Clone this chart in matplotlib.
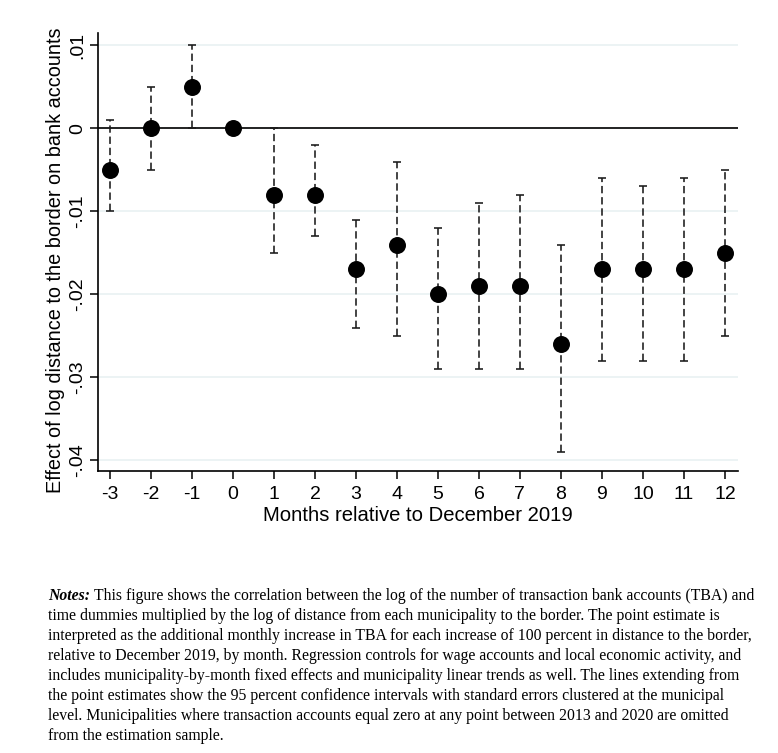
import numpy as np
import matplotlib
matplotlib.use("Agg")
import matplotlib.pyplot as plt

months = [-3, -2, -1, 0, 1, 2, 3, 4, 5, 6, 7, 8, 9, 10, 11, 12]
coef = [-0.005, 0.0, 0.005, 0.0, -0.008, -0.008, -0.017, -0.014,
        -0.020, -0.019, -0.019, -0.026, -0.017, -0.017, -0.017, -0.015]
ci_lo = [-0.010, -0.005, 0.000, 0.0, -0.015, -0.013, -0.024, -0.025,
         -0.029, -0.029, -0.029, -0.039, -0.028, -0.028, -0.028, -0.025]
ci_hi = [0.001, 0.005, 0.010, 0.0, 0.000, -0.002, -0.011, -0.004,
         -0.012, -0.009, -0.008, -0.014, -0.006, -0.007, -0.006, -0.005]
yticks = [0.01, 0.0, -0.01, -0.02, -0.03, -0.04]
ytick_labels = [".01", "0", "-.01", "-.02", "-.03", "-.04"]

notes = [
    "This figure shows the correlation between the log of the number of transaction bank accounts (TBA) and",
    "time dummies multiplied by the log of distance from each municipality to the border. The point estimate is",
    "interpreted as the additional monthly increase in TBA for each increase of 100 percent in distance to the border,",
    "relative to December 2019, by month. Regression controls for wage accounts and local economic activity, and",
    "includes municipality-by-month fixed effects and municipality linear trends as well. The lines extending from",
    "the point estimates show the 95 percent confidence intervals with standard errors clustered at the municipal",
    "level. Municipalities where transaction accounts equal zero at any point between 2013 and 2020 are omitted",
    "from the estimation sample.",
]

plt.rcParams["font.family"] = "Liberation Sans"

fig = plt.figure(figsize=(7.78, 7.53), dpi=100)
ax = fig.add_axes([0.1264, 0.3745, 0.8222, 0.5817])

x = np.array(months)
y = np.array(coef)
lo = np.array(ci_lo)
hi = np.array(ci_hi)
has_ci = hi > lo

for yt in yticks:
    ax.axhline(yt, color="#eaf2f3", lw=1.3, zorder=0)
ax.axhline(0, color="black", lw=1.2, zorder=1)

# confidence intervals: dashed stems with caps
ax.vlines(x[has_ci], lo[has_ci], hi[has_ci], colors="#1a1a1a",
          linestyles=(0, (4.6, 2.4)), lw=1.15, zorder=2)
ax.hlines(lo[has_ci], x[has_ci] - 0.09, x[has_ci] + 0.09, colors="#1a1a1a", lw=1.15, zorder=2)
ax.hlines(hi[has_ci], x[has_ci] - 0.09, x[has_ci] + 0.09, colors="#1a1a1a", lw=1.15, zorder=2)
ax.plot(x, y, "o", color="black", ms=11.2, zorder=3)

ax.set_xlim(-3.285, 12.32)
ax.set_ylim(-0.04127, 0.01148)
ax.set_xticks(months)
ax.set_xticklabels([str(m) for m in months], fontsize=14)
ax.set_yticks(yticks)
ax.set_yticklabels(ytick_labels, fontsize=14, rotation=90, va="center")
ax.tick_params(length=6, width=1.1, color="black", pad=3)
ax.tick_params(axis="x", pad=5)
for s in ["top", "right"]:
    ax.spines[s].set_visible(False)
for s in ["left", "bottom"]:
    ax.spines[s].set_linewidth(1.2)
ax.set_xlabel("Months relative to December 2019", fontsize=14.6, labelpad=2)
ax.set_ylabel("Effect of log distance to the border on bank accounts", fontsize=14.3)
ax.yaxis.set_label_coords(-0.052, 0.482)

fig.canvas.draw()
renderer = fig.canvas.get_renderer()
y0 = 1 - 600 / 753
x0 = 48 / 778
lead = fig.text(x0, y0, "Notes:", fontsize=11.35, family="Liberation Serif",
                style="italic", weight="bold", va="baseline")
bb = lead.get_window_extent(renderer)
fig.text(x0 + (bb.width + 4) / 778, y0, notes[0], fontsize=11.35,
         family="Liberation Serif", va="baseline")
for i, line in enumerate(notes[1:], start=1):
    fig.text(x0, y0 - i * 20 / 753, line, fontsize=11.35,
             family="Liberation Serif", va="baseline")

fig.savefig("out.png", dpi=100)
